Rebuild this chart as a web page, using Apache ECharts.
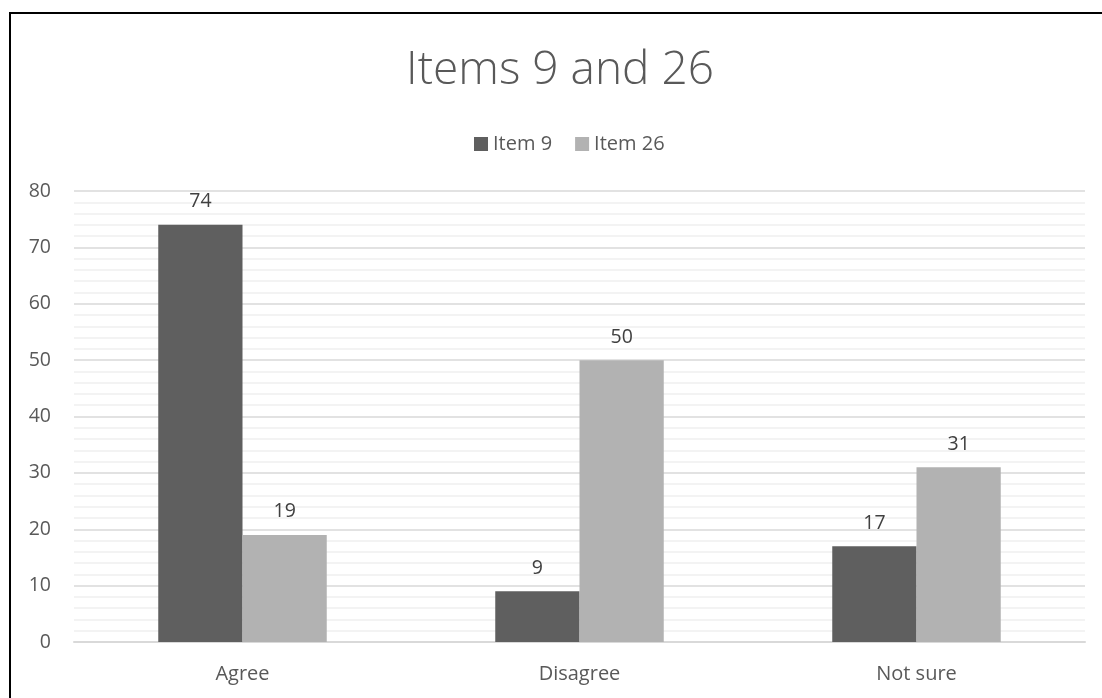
<!DOCTYPE html>
<html><head><meta charset="utf-8">
<script src="https://cdn.jsdelivr.net/npm/echarts@6/dist/echarts.min.js"></script>
<style>
html,body{margin:0;padding:0;background:#fff;}
#frame{position:absolute;left:9px;top:12px;width:1200px;height:800px;border-top:2px solid #000;border-left:2px solid #000;}
#chart{position:absolute;left:0;top:0;width:1102px;height:698px;}
</style></head>
<body>
<div id="frame"></div>
<div id="chart"></div>
<script>
const categories = ['Agree', 'Disagree', 'Not sure'];
const item9 = [74, 9, 17];
const item26 = [19, 50, 31];
const seriesNames = ['Item 9', 'Item 26'];

const chart = echarts.init(document.getElementById('chart'));
const txt = '#595959';
const labelCfg = {show: true, position: 'top', distance: 13, color: '#404040', fontSize: 19.5, fontFamily: 'Open Sans'};
chart.setOption({
  backgroundColor: 'transparent',
  animation: false,
  title: {text: 'Items 9 and 26', left: 555, textAlign: 'center', top: 43,
    textStyle: {fontFamily: 'Open Sans', fontWeight: 300, fontSize: 46, color: txt}},
  legend: {left: 469, top: 129, itemWidth: 14, itemHeight: 14, itemGap: 23, icon: 'rect',
    textStyle: {fontFamily: 'Open Sans', fontSize: 20, color: txt}, data: seriesNames},
  grid: {left: 74, right: 17, top: 191, bottom: 56},
  xAxis: {type: 'category', data: categories,
    axisLine: {show: true, lineStyle: {color: '#d9d9d9', width: 2}},
    axisTick: {show: false},
    axisLabel: {color: txt, fontSize: 20, fontFamily: 'Open Sans', margin: 22}},
  yAxis: {type: 'value', min: 0, max: 80, interval: 10,
    axisLine: {show: false}, axisTick: {show: false},
    axisLabel: {color: txt, fontSize: 19.5, fontFamily: 'Open Sans', margin: 23},
    splitLine: {lineStyle: {color: '#d9d9d9', width: 1.5}},
    minorTick: {show: false, splitNumber: 5},
    minorSplitLine: {show: true, lineStyle: {color: '#efefef', width: 1.5}}},
  series: [
    {name: seriesNames[0], type: 'bar', data: item9, barGap: '0%', barCategoryGap: '50%',
      itemStyle: {color: '#5f5f5f'}, label: labelCfg},
    {name: seriesNames[1], type: 'bar', data: item26, barGap: '0%', barCategoryGap: '50%',
      itemStyle: {color: '#b2b2b2'}, label: labelCfg}
  ]
});
</script>
</body></html>
